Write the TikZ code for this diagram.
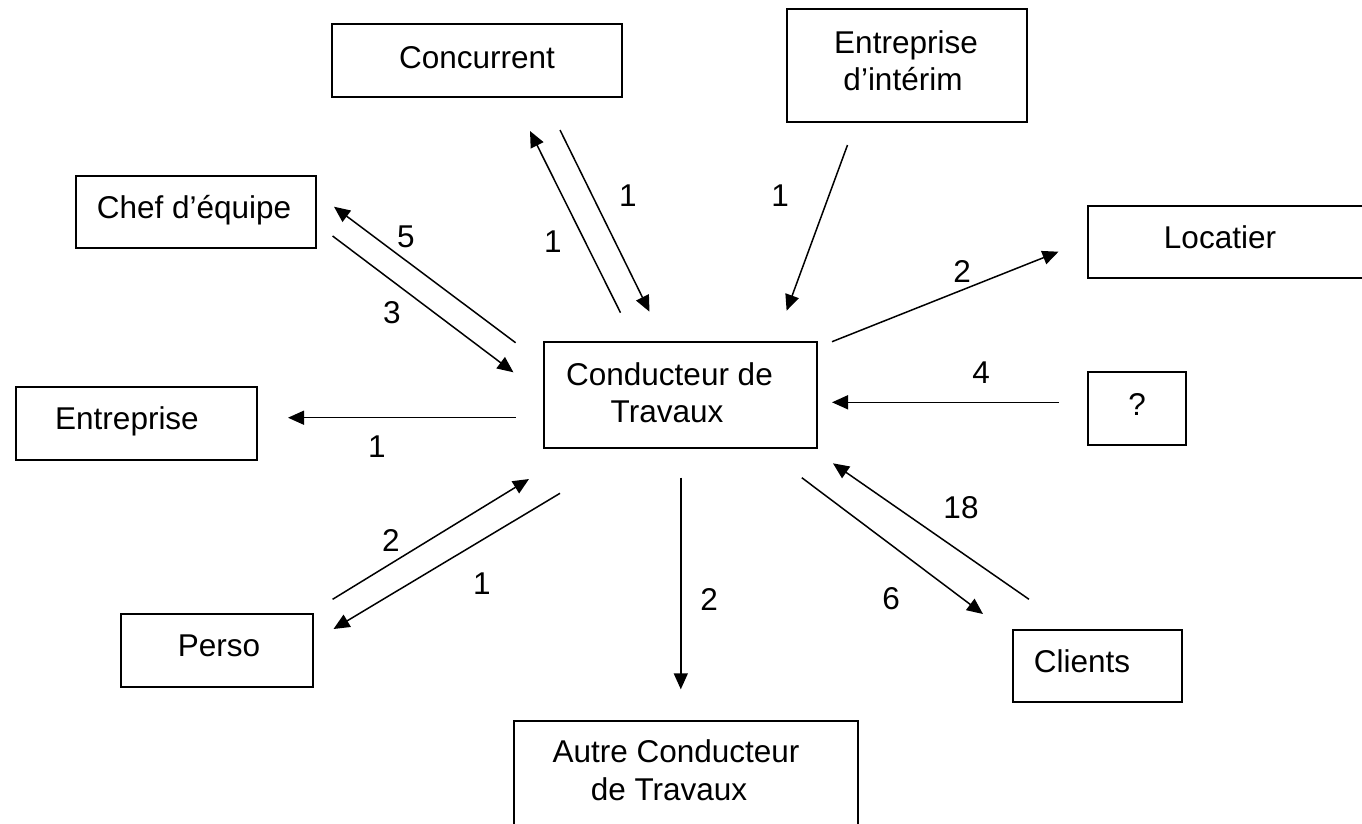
\documentclass[tikz,border=0pt]{standalone}
\usepackage{fontspec}
\setmainfont{Liberation Sans}
\usetikzlibrary{arrows.meta}
\begin{document}
\begin{tikzpicture}[x=1pt,y=-1pt,
  box/.style={draw, line width=1.8pt, inner sep=0pt},
  txt/.style={inner sep=0pt, anchor=base, font=\fontsize{31.5}{37}\selectfont},
  num/.style={inner sep=0pt, font=\fontsize{31.5}{37}\selectfont},
  arr/.style={line width=1.5pt, -{Triangle[length=16pt,width=14pt]}}]
\useasboundingbox (0,0) rectangle (1362,823);
\fill[white] (0,0) rectangle (1362,823);
\clip (0,0) rectangle (1362,823);

% boxes
\node[box, minimum width=290pt, minimum height=73pt]  (conc)    at (477,60.5) {};
\node[box, minimum width=240pt, minimum height=113pt] (interim) at (907,65.5) {};
\node[box, minimum width=240pt, minimum height=72pt]  (chef)    at (196,212) {};
\node[box, minimum width=292pt, minimum height=72pt]  (loc)     at (1234,242) {};
\node[box, minimum width=273pt, minimum height=106pt] (cond)    at (680.5,395) {};
\node[box, minimum width=241pt, minimum height=73pt]  (entr)    at (136.3,423.5) {};
\node[box, minimum width=98pt,  minimum height=73pt]  (q)       at (1137,408.5) {};
\node[box, minimum width=192pt, minimum height=73pt]  (perso)   at (216.7,650.5) {};
\node[box, minimum width=169pt, minimum height=72pt]  (clients) at (1097.5,666) {};
\node[box, minimum width=344pt, minimum height=129pt] (autre)   at (686,785.5) {};

% texts
\node[txt] (tconc)   at (477,68)    {Concurrent};
\node[txt] (tint1)   at (906,53)    {Entreprise};
\node[txt] (tint2)   at (903,90)    {d’intérim};
\node[txt] (tchef)   at (194,218)   {Chef d’équipe};
\node[txt] (tloc)    at (1220,248)  {Locatier};
\node[txt] (tcond1)  at (669.5,385) {Conducteur de};
\node[txt] (tcond2)  at (667,422)   {Travaux};
\node[txt] (tentr)   at (127,429)   {Entreprise};
\node[txt] (tq)      at (1137,415)  {?};
\node[txt] (tperso)  at (219,656)   {Perso};
\node[txt] (tcli)    at (1082,672)  {Clients};
\node[txt] (taut1)   at (676,762)   {Autre Conducteur};
\node[txt] (taut2)   at (669,800)   {de Travaux};

% connector end points
\coordinate (a1) at (620.5,312.7);  \coordinate (b1) at (530,131);
\coordinate (a2) at (560,130);      \coordinate (b2) at (649.5,311.7);
\coordinate (a3) at (847.5,145);    \coordinate (b3) at (786.6,310.7);
\coordinate (a4) at (832,341.7);    \coordinate (b4) at (1058.5,251.7);
\coordinate (a5) at (1059,402.3);   \coordinate (b5) at (832,402.3);
\coordinate (a6) at (515.6,342.7);  \coordinate (b6) at (334,206.7);
\coordinate (a7) at (332.6,236);    \coordinate (b7) at (513.4,372.3);
\coordinate (a8) at (515.6,417.7);  \coordinate (b8) at (288,417.7);
\coordinate (a9) at (332.6,599.3);  \coordinate (b9) at (529,479);
\coordinate (a10) at (560,493.3);   \coordinate (b10) at (333.5,629);
\coordinate (a11) at (680.8,477.7); \coordinate (b11) at (680.8,689.3);
\coordinate (a12) at (801.8,477.7); \coordinate (b12) at (983,614);
\coordinate (a13) at (1029,599.3);  \coordinate (b13) at (833,463.3);

% connectors
\draw[arr] (a1) -- (b1);
\draw[arr] (a2) -- (b2);
\draw[arr] (a3) -- (b3);
\draw[arr] (a4) -- (b4);
\draw[arr] (a5) -- (b5);
\draw[arr] (a6) -- (b6);
\draw[arr] (a7) -- (b7);
\draw[arr] (a8) -- (b8);
\draw[arr] (a9) -- (b9);
\draw[arr] (a10) -- (b10);
\draw[arr] (a11) -- (b11);
\draw[arr] (a12) -- (b12);
\draw[arr] (a13) -- (b13);

% labels
\node[num] (n1)  at (553,242) {1};
\node[num] (n2)  at (628,196) {1};
\node[num] (n3)  at (780,196) {1};
\node[num] (n4)  at (962,271) {2};
\node[num] (n5)  at (981,373) {4};
\node[num] (n6)  at (406,237) {5};
\node[num] (n7)  at (392,313) {3};
\node[num] (n8)  at (377,447) {1};
\node[num] (n9)  at (391,540) {2};
\node[num] (n10) at (482,584) {1};
\node[num] (n11) at (709,599) {2};
\node[num] (n12) at (891,599) {6};
\node[num] (n13) at (961,508) {18};
\end{tikzpicture}
\end{document}
